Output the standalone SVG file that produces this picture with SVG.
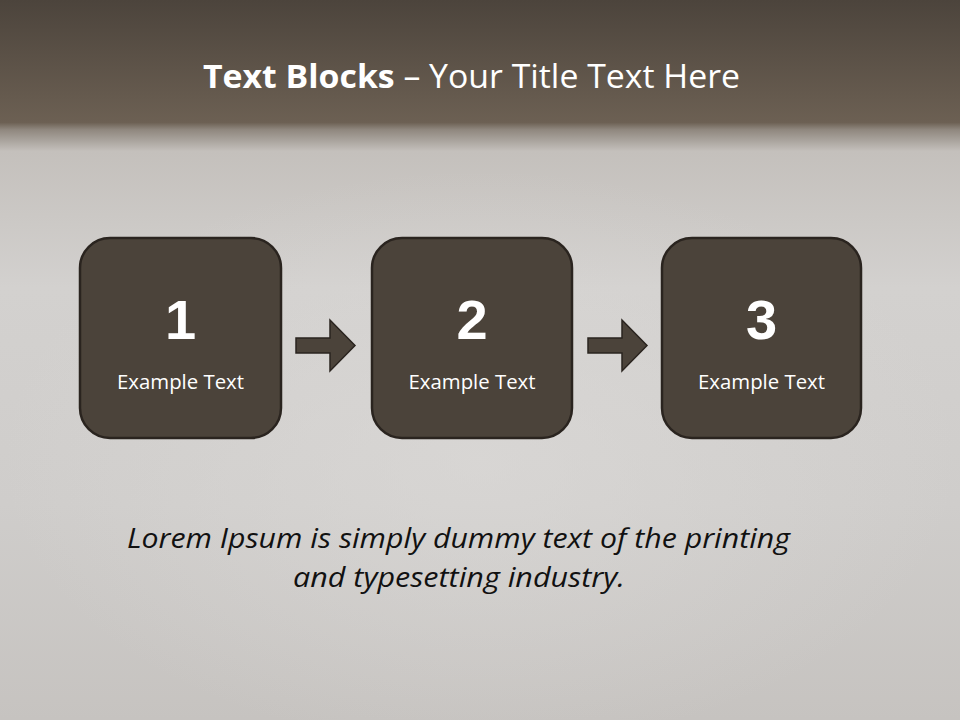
<svg xmlns="http://www.w3.org/2000/svg" width="960" height="720" viewBox="0 0 960 720">
<defs>
<linearGradient id="bg" x1="0" y1="0" x2="0" y2="1">
<stop offset="0" stop-color="#4c443c"/>
<stop offset="0.17" stop-color="#6c6053"/>
<stop offset="0.18" stop-color="#8f877e"/>
<stop offset="0.21" stop-color="#c4c0bc"/>
<stop offset="0.4" stop-color="#d3d1cf"/>
<stop offset="0.7" stop-color="#cfcdcb"/>
<stop offset="1" stop-color="#c6c3c0"/>
</linearGradient>
<radialGradient id="glow" cx="0.5" cy="0.55" r="0.5">
<stop offset="0" stop-color="#dddbd9" stop-opacity="0.6"/>
<stop offset="1" stop-color="#dddbd9" stop-opacity="0"/>
</radialGradient>
</defs>
<style>
.box{fill:#4b433a;stroke:#2a241f;stroke-width:2.5}
.arr{fill:#4b433a;stroke:#2a241f;stroke-width:1.5}
.num{font-family:"Liberation Sans",Arial,sans-serif;font-weight:bold;font-size:56px;fill:#ffffff;text-anchor:middle}
.lbl{font-family:"Open Sans","Liberation Sans",sans-serif;font-size:20px;fill:#ffffff;text-anchor:middle}
.title{font-family:"Open Sans","Liberation Sans",sans-serif;font-size:32px;fill:#ffffff}
.body{font-family:"Open Sans","Liberation Sans",sans-serif;font-style:italic;font-size:28px;fill:#111111;text-anchor:middle}
</style>
<rect x="0" y="0" width="960" height="720" fill="url(#bg)"/>
<rect x="0" y="140" width="960" height="580" fill="url(#glow)"/>
<text class="title" x="203" y="88" textLength="537" lengthAdjust="spacingAndGlyphs"><tspan font-weight="bold">Text Blocks</tspan> – Your Title Text Here</text>
<g id="node1">
<rect class="box" x="80" y="238" width="201" height="200" rx="30" ry="30"/>
<text class="num" x="180.5" y="339">1</text>
<text class="lbl" x="180.5" y="389" textLength="127" lengthAdjust="spacingAndGlyphs">Example Text</text>
</g>
<g id="node2">
<rect class="box" x="372" y="238" width="200" height="200" rx="30" ry="30"/>
<text class="num" x="472" y="339">2</text>
<text class="lbl" x="472" y="389" textLength="127" lengthAdjust="spacingAndGlyphs">Example Text</text>
</g>
<g id="node3">
<rect class="box" x="662" y="238" width="199" height="200" rx="30" ry="30"/>
<text class="num" x="761.5" y="339">3</text>
<text class="lbl" x="761.5" y="389" textLength="127" lengthAdjust="spacingAndGlyphs">Example Text</text>
</g>
<g id="connectors">
<path class="arr" d="M296 338 L330 338 L330 320 L355 345.5 L330 371 L330 353 L296 353 Z"/>
<path class="arr" d="M588 338 L622 338 L622 320 L647 345.5 L622 371 L622 353 L588 353 Z"/>
</g>
<text class="body" x="458.5" y="548" textLength="663" lengthAdjust="spacingAndGlyphs">Lorem Ipsum is simply dummy text of the printing</text>
<text class="body" x="459" y="587" textLength="332" lengthAdjust="spacingAndGlyphs">and typesetting industry.</text>
</svg>
